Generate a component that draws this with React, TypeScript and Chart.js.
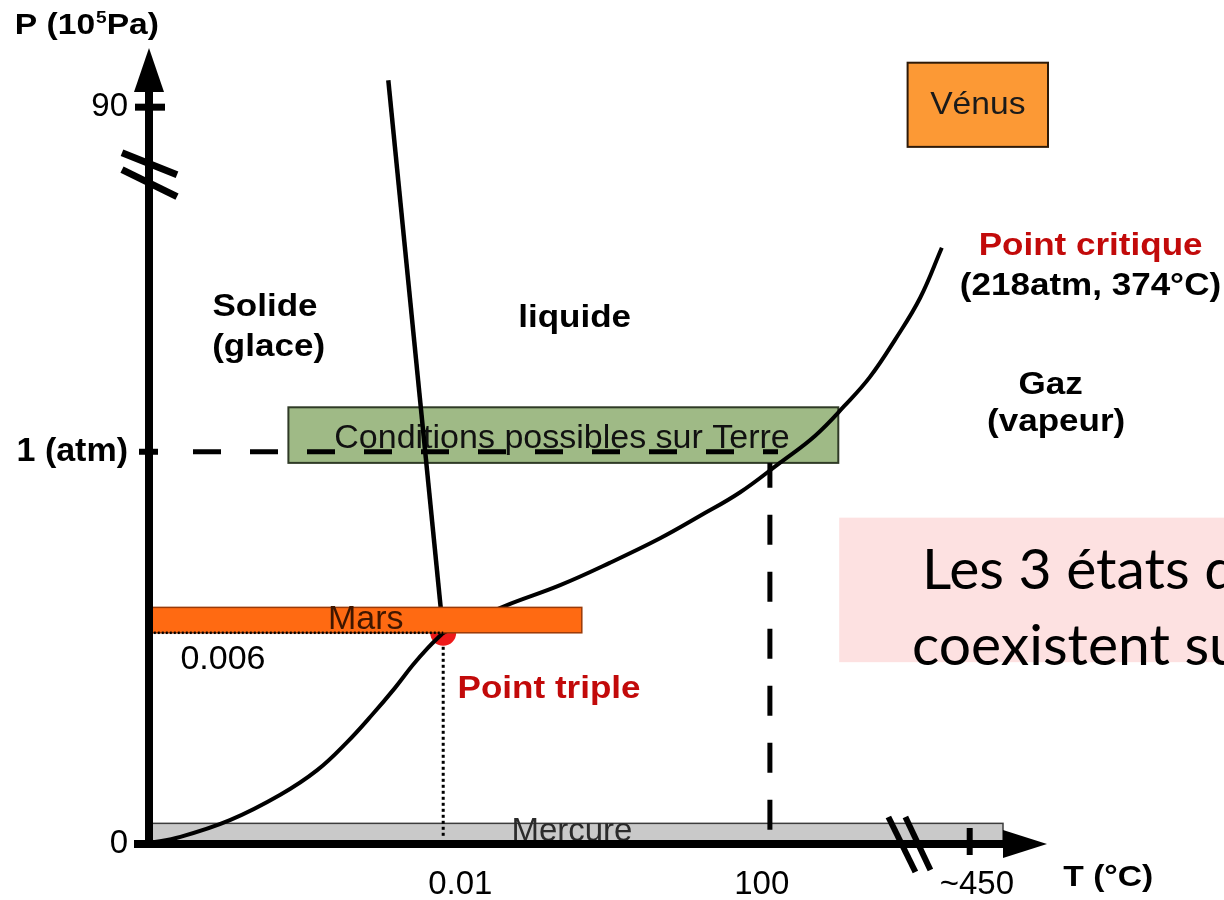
import React, { useEffect, useRef } from "react";
import { Chart, registerables } from "chart.js";

Chart.register(...registerables);

// Schematic (broken, non-linear) axes: both axes are expressed in diagram units 0..100.
// Phase boundary curves (T position, P position)
const sublimationT = [0.0, 3.6, 9.1, 14.7, 18.8, 22.1, 25.0, 27.4, 29.4, 31.1, 32.8];
const sublimationP = [0.1, 0.9, 3.0, 6.2, 9.3, 12.8, 16.4, 19.6, 22.5, 24.7, 26.6];
const vaporisationT = [32.8, 39.7, 45.8, 51.3, 56.9, 61.3, 65.8, 70.2, 74.1, 77.4, 80.2, 83.0, 85.8, 88.2];
const vaporisationP = [26.6, 30.0, 32.6, 35.4, 38.5, 41.3, 44.3, 48.0, 51.4, 55.2, 58.8, 63.5, 68.8, 75.1];
const fusionT = [26.7, 32.8];
const fusionP = [96.2, 26.6];
const tripleT = [32.8];
const tripleP = [26.6];

// Axis ticks
const xTickPos = [34.7, 68.2, 92.1];
const xTickLabels = ["0.01", "100", "~450"];
const xTickMarks = [91.3];
const yTickPos = [0, 49.4, 92.8];
const yTickLabels = ["0", "1 (atm)", "90"];
const pAtm = 49.4;
const p90 = 92.8;
const pTriple = 26.6;
const tTriple = 32.8;
const tBoil = 69.1;
const pBoil = 48.0;
const tAtmDashStart = 5.0;
const tAtmDashEnd = 70.0;
const yBreak = 84.3;
const xBreak = 84.6;

// Planet / condition zones [xmin, xmax] and [ymin, ymax]
const mercureT = [0, 95];
const mercureP = [0, 2.6];
const marsT = [0.2, 48.2];
const marsP = [26.6, 29.8];
const terreT = [15.6, 76.7];
const terreP = [48.0, 55.0];
const venusT = [84.4, 100];
const venusP = [87.8, 98.4];
const noteT = [76.8, 125];
const noteP = [22.9, 41.1];

const FONT = '"Liberation Sans", Arial, Helvetica, sans-serif';
const RED = "#c20a0a";

function txt(ctx: any, s: string, x: number, y: number, size: number, weight: string, color: string,
  align: string = "center", sx: number = 1, baseline: string = "middle", family: string = FONT) {
  ctx.save();
  ctx.font = `${weight} ${size}px ${family}`;
  ctx.fillStyle = color;
  ctx.textAlign = align;
  ctx.textBaseline = baseline;
  ctx.translate(x, y);
  ctx.scale(sx, 1);
  ctx.fillText(s, 0, 0);
  const w = ctx.measureText(s).width * sx;
  ctx.restore();
  return w;
}

function rect(ctx: any, x0: number, y0: number, x1: number, y1: number, fill: string, stroke?: string, lw = 1.5) {
  const x = Math.min(x0, x1), y = Math.min(y0, y1), w = Math.abs(x1 - x0), h = Math.abs(y1 - y0);
  ctx.save();
  ctx.fillStyle = fill;
  ctx.fillRect(x, y, w, h);
  if (stroke) {
    ctx.strokeStyle = stroke;
    ctx.lineWidth = lw;
    ctx.strokeRect(x, y, w, h);
  }
  ctx.restore();
}

function seg(ctx: any, x0: number, y0: number, x1: number, y1: number, lw: number, dash: number[] = [], color = "#000", cap = "butt") {
  ctx.save();
  ctx.strokeStyle = color;
  ctx.lineWidth = lw;
  ctx.lineCap = cap;
  ctx.setLineDash(dash);
  ctx.beginPath();
  ctx.moveTo(x0, y0);
  ctx.lineTo(x1, y1);
  ctx.stroke();
  ctx.restore();
}

function tri(ctx: any, pts: number[][]) {
  ctx.save();
  ctx.fillStyle = "#000";
  ctx.beginPath();
  ctx.moveTo(pts[0][0], pts[0][1]);
  ctx.lineTo(pts[1][0], pts[1][1]);
  ctx.lineTo(pts[2][0], pts[2][1]);
  ctx.closePath();
  ctx.fill();
  ctx.restore();
}

const diagramPlugin = {
  id: "phaseDiagram",
  beforeDatasetsDraw(chart: any) {
    const ctx = chart.ctx;
    const X = (v: number) => chart.scales.x.getPixelForValue(v);
    const Y = (v: number) => chart.scales.y.getPixelForValue(v);

    // Mercure band
    rect(ctx, X(mercureT[0]), Y(mercureP[1]), X(mercureT[1]), Y(mercureP[0]), "#c9c9c9", "#3c3c3c", 1.5);
    txt(ctx, "Mercure", X(47.1), Y(1.5), 33, "normal", "#2b2b2b");

    // Conditions on Earth
    rect(ctx, X(terreT[0]), Y(terreP[1]), X(terreT[1]), Y(terreP[0]), "#9fba86", "#2f3a26", 2);
    txt(ctx, "Conditions possibles sur Terre", X(46.0), Y(51.0), 34, "normal", "#111");

    // Vénus
    rect(ctx, X(venusT[0]), Y(venusP[1]), X(venusT[1]), Y(venusP[0]), "#fc9935", "#2e1a08", 2);
    txt(ctx, "Vénus", X(92.2), Y(93.1), 32, "normal", "#1a1a1a", "center", 1.05);

    // Pink note
    rect(ctx, X(noteT[0]), Y(noteP[1]), X(noteT[1]), Y(noteP[0]), "#fde1e1");
    txt(ctx, "Les 3 états de l'eau", X(86.0), Y(32.1), 57, "normal", "#000", "left", 1, "alphabetic", "Lato, 'Open Sans', sans-serif");
    txt(ctx, "coexistent sur Terre", X(84.9), Y(22.6), 57, "normal", "#000", "left", 1, "alphabetic", "Lato, 'Open Sans', sans-serif");

    // 1 atm dashed line
    seg(ctx, X(tAtmDashStart), Y(pAtm), X(tAtmDashEnd), Y(pAtm), 5, [28, 29]);
    // 100 °C dashed line (drawn upward from the axis)
    seg(ctx, X(tBoil), Y(1.8), X(tBoil), Y(pBoil), 5, [30, 27]);
    // triple point dotted vertical
    seg(ctx, X(tTriple), Y(pTriple) + 14, X(tTriple), Y(0.7), 3, [3, 3]);
  },
  afterDatasetsDraw(chart: any) {
    const ctx = chart.ctx;
    const a = chart.chartArea;
    const X = (v: number) => chart.scales.x.getPixelForValue(v);
    const Y = (v: number) => chart.scales.y.getPixelForValue(v);

    // Mars band (covers the triple point)
    rect(ctx, X(marsT[0]), Y(marsP[1]), X(marsT[1]), Y(marsP[0]), "#ff6a12", "#9a3a08", 1.5);
    txt(ctx, "Mars", X(24.2), Y(28.2), 34, "normal", "#3e1600");
    seg(ctx, X(marsT[0]), Y(pTriple), X(tTriple), Y(pTriple), 2.5, [2, 2]);

    const ox = X(0) + 1;
    const oy = Y(0);

    // Y axis with arrow
    seg(ctx, ox, oy + 4, ox, a.top + 40, 8);
    tri(ctx, [[ox, a.top - 2], [ox - 15, a.top + 42], [ox + 15, a.top + 42]]);
    // X axis with arrow
    seg(ctx, ox - 15, oy, a.right - 42, oy, 8);
    tri(ctx, [[a.right - 1, oy], [a.right - 45, oy - 14], [a.right - 45, oy + 14]]);

    // tick marks
    seg(ctx, ox - 14, Y(p90), ox + 16, Y(p90), 7);
    seg(ctx, ox - 10, Y(pAtm), ox + 9, Y(pAtm), 6);
    xTickMarks.forEach((t) => seg(ctx, X(t), oy - 16, X(t), oy + 11, 6));

    // axis breaks
    const yb = Y(yBreak);
    seg(ctx, ox - 27, yb - 22, ox + 28, yb, 7);
    seg(ctx, ox - 27, yb - 5, ox + 28, yb + 22, 7);
    const xb = X(xBreak);
    seg(ctx, xb - 21, oy - 27, xb + 6, oy + 28, 6);
    seg(ctx, xb - 4, oy - 27, xb + 21, oy + 26, 6);

    // axis titles
    const sx = 1.12;
    let px = X(-14.8);
    const py = Y(103.1);
    px += txt(ctx, "P (10", px, py, 30, "bold", "#000", "left", sx);
    px += txt(ctx, "5", px + 1, py - 7, 17, "bold", "#000", "left", sx) + 1;
    txt(ctx, "Pa)", px, py, 30, "bold", "#000", "left", sx);
    txt(ctx, "T (°C)", X(101.7), Y(-4.2), 30, "bold", "#000", "left", sx);

    // region labels
    const bs = 1.13;
    txt(ctx, "Solide", X(13.0), Y(67.6), 31, "bold", "#000", "center", bs);
    txt(ctx, "(glace)", X(13.4), Y(62.6), 31, "bold", "#000", "center", bs);
    txt(ctx, "liquide", X(47.4), Y(66.2), 31, "bold", "#000", "center", bs);
    txt(ctx, "Gaz", X(100.3), Y(57.7), 31, "bold", "#000", "center", bs);
    txt(ctx, "(vapeur)", X(100.9), Y(53.1), 31, "bold", "#000", "center", bs);
    txt(ctx, "Point critique", X(92.3), Y(75.2), 31, "bold", RED, "left", bs);
    txt(ctx, "(218atm, 374°C)", X(90.2), Y(70.2), 31, "bold", "#000", "left", bs);
    txt(ctx, "Point triple", X(34.4), Y(19.5), 31, "bold", RED, "left", bs);
    txt(ctx, "0.006", X(3.6), Y(23.2), 34, "normal", "#000", "left");
  },
};

export default function App() {
  const ref = useRef<HTMLCanvasElement | null>(null);

  useEffect(() => {
    if (!ref.current) return;
    const pts = (xs: number[], ys: number[]) => xs.map((x, i) => ({ x, y: ys[i] }));
    const chart = new Chart(ref.current, {
      type: "scatter",
      data: {
        datasets: [
          {
            label: "Sublimation",
            data: pts(sublimationT, sublimationP),
            showLine: true,
            borderColor: "#000",
            borderWidth: 4,
            pointRadius: 0,
            tension: 0.4,
            clip: false,
          },
          {
            label: "Vaporisation",
            data: pts(vaporisationT, vaporisationP),
            showLine: true,
            borderColor: "#000",
            borderWidth: 4,
            pointRadius: 0,
            tension: 0.4,
            clip: false,
          },
          {
            label: "Fusion",
            data: pts(fusionT, fusionP),
            showLine: true,
            borderColor: "#000",
            borderWidth: 4.5,
            pointRadius: 0,
            tension: 0,
            clip: false,
          },
          {
            label: "Point triple",
            data: pts(tripleT, tripleP),
            showLine: false,
            pointRadius: 13,
            pointBackgroundColor: "#ee1a1a",
            pointBorderWidth: 0,
            clip: false,
          },
        ],
      } as any,
      options: {
        responsive: false,
        animation: false,
        devicePixelRatio: 1,
        events: [],
        layout: { padding: { left: 0, right: 176, top: 50, bottom: 0 } },
        plugins: { legend: { display: false }, tooltip: { enabled: false } },
        scales: {
          x: {
            type: "linear",
            min: 0,
            max: 100,
            grid: { display: false, drawTicks: false },
            border: { display: false },
            afterFit: (s: any) => { s.height = 56; },
            afterBuildTicks: (s: any) => { s.ticks = xTickPos.map((v) => ({ value: v })); },
            ticks: {
              autoSkip: false,
              maxRotation: 0,
              minRotation: 0,
              padding: 21,
              color: "#000",
              font: { family: FONT, size: 33 },
              callback: (_v: any, i: number) => xTickLabels[i],
            },
          },
          y: {
            type: "linear",
            min: 0,
            max: 100,
            grid: { display: false, drawTicks: false },
            border: { display: false },
            afterFit: (s: any) => { s.width = 148; },
            afterBuildTicks: (s: any) => { s.ticks = yTickPos.map((v) => ({ value: v })); },
            ticks: {
              autoSkip: false,
              padding: 20,
              color: "#000",
              font: (c: any) => (c.index === 1
                ? { family: FONT, size: 34, weight: "bold" }
                : { family: FONT, size: 33, weight: "normal" }),
              callback: (_v: any, i: number) => yTickLabels[i],
            },
          },
        },
      } as any,
      plugins: [diagramPlugin],
    });
    return () => chart.destroy();
  }, []);

  return (
    <div style={{ position: "absolute", left: 0, top: 0, width: 1224, height: 900, background: "#fff", overflow: "hidden" }}>
      <canvas ref={ref} width={1224} height={900} style={{ display: "block", width: 1224, height: 900 }} />
    </div>
  );
}
